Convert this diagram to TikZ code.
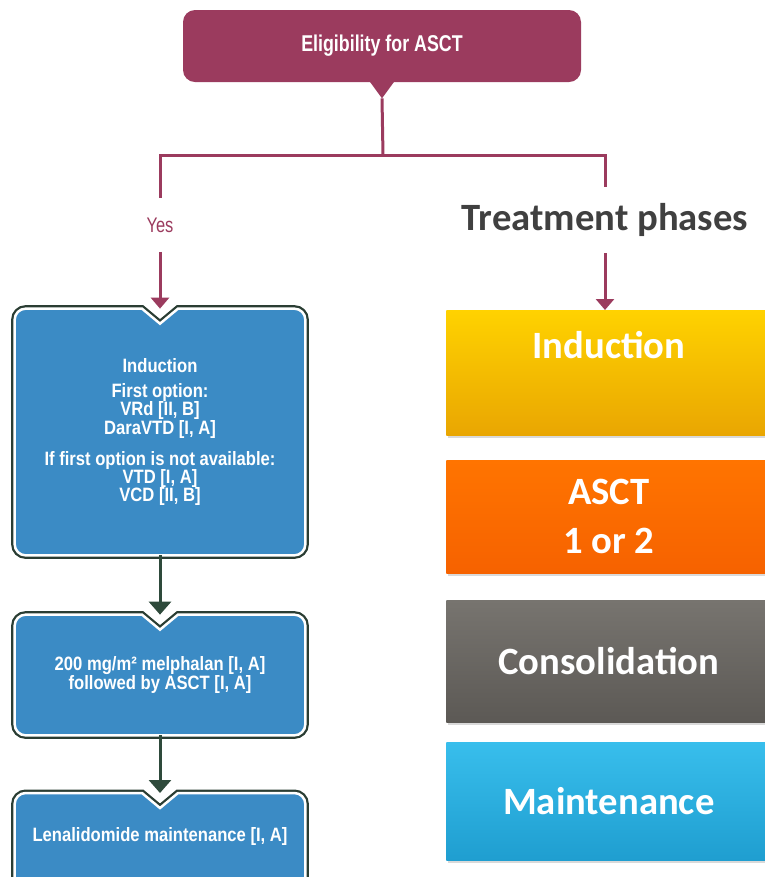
\documentclass[tikz,border=0pt]{standalone}
\usepackage{fontspec}
\setmainfont{Liberation Sans}
\newfontfamily\condfont[FakeStretch=0.78]{Liberation Sans}
\newfontfamily\stepfont[FakeStretch=0.86]{Liberation Sans}
\newfontfamily\phasefont{Carlito}
\usetikzlibrary{arrows.meta, shadows, backgrounds}

\newcommand{\tightlines}{\setlength{\lineskiplimit}{-10pt}\setlength{\lineskip}{0pt}}

\definecolor{eligred}{HTML}{9B3B5E}
\definecolor{indblue}{HTML}{3B8BC5}
\definecolor{edgedark}{HTML}{2A3D33}
\definecolor{arrowgreen}{HTML}{2E4A3B}
\definecolor{phasegray}{HTML}{404040}
\definecolor{yellowtop}{HTML}{FFD200}
\definecolor{yellowbot}{HTML}{E9A602}
\definecolor{orangetop}{HTML}{FF7400}
\definecolor{orangebot}{HTML}{F66200}
\definecolor{graytop}{HTML}{77746F}
\definecolor{graybot}{HTML}{5C5955}
\definecolor{cyantop}{HTML}{38BEEC}
\definecolor{cyanbot}{HTML}{1F9ED0}

\tikzset{
  eligbox/.style={fill=eligred, rounded corners=0.24cm, minimum width=7.96cm,
    minimum height=1.44cm, text=white, font=\condfont\bfseries\fontsize{13}{15}\selectfont},
  redline/.style={draw=eligred, line width=0.06cm},
  redarrow/.style={redline, -{Triangle[width=0.36cm,length=0.22cm]}},
  greenarrow/.style={draw=arrowgreen, line width=0.06cm, -{Triangle[width=0.44cm,length=0.26cm]}},
  stepbox/.style={text=white, align=center, minimum width=5.8cm, inner sep=0pt,
    font=\stepfont\bfseries\fontsize{11}{10.3}\selectfont\tightlines},
  notchfill/.style={fill=indblue, draw=white, line width=0.05cm,
    preaction={draw=edgedark, line width=0.14cm}},
  phasebox/.style={anchor=north west, minimum width=6.5cm, text=white, align=center,
    font=\phasefont\bfseries\fontsize{22}{28}\selectfont,
    drop shadow={opacity=0.3, shadow xshift=0.04cm, shadow yshift=-0.05cm}},
}

% blue box outline with the notch at the top
\newcommand{\notchbox}[1]{%
  \path[notchfill] ([xshift=-0.36cm]#1.north) -- ([yshift=-0.3cm]#1.north) -- ([xshift=0.36cm]#1.north)
    -- ([xshift=-0.22cm]#1.north east) arc[start angle=90, end angle=0, radius=0.22cm]
    -- ([yshift=0.22cm]#1.south east) arc[start angle=0, end angle=-90, radius=0.22cm]
    -- ([xshift=0.22cm]#1.south west) arc[start angle=270, end angle=180, radius=0.22cm]
    -- ([yshift=-0.22cm]#1.north west) arc[start angle=180, end angle=90, radius=0.22cm]
    -- cycle;}

\begin{document}
\begin{tikzpicture}

    \useasboundingbox (0,0) rectangle (15.3,-17.54);

    % Top decision
    \node[eligbox] (elig) at (7.64,-0.92) {Eligibility for ASCT};
    \coordinate (tip) at ([yshift=-0.32cm]elig.south);
    \fill[eligred] ([xshift=-0.27cm,yshift=0.05cm]elig.south) -- ([xshift=0.27cm,yshift=0.05cm]elig.south) -- (tip) -- cycle;
    \coordinate (fork) at (7.66,-3.1);

    % Branch labels
    \node[text=eligred, font=\condfont\fontsize{12}{13}\selectfont, minimum height=1.06cm, inner sep=0pt] (yes) at (3.2,-4.5) {Yes};
    \node[text=phasegray, font=\phasefont\bfseries\fontsize{22}{24}\selectfont, minimum height=1.32cm, inner sep=0pt] (phases) at (12.1,-4.4) {Treatment phases};

    % Left column
    \node[stepbox, minimum height=4.92cm] (ind1) at (3.2,-8.64) {Induction\\[0.14cm]
        First option:\\ VRd [II, B]\\ DaraVTD [I, A]\\[0.26cm]
        If first option is not available:\\ VTD [I, A]\\ VCD [II, B]};
    \node[stepbox, minimum height=2.4cm] (ind2) at (3.2,-13.5) {200 mg/m² melphalan [I, A]\\ followed by ASCT [I, A]};
    \node[stepbox, anchor=north, inner ysep=0.5cm, text height=0.47cm, text depth=1.6cm] (ind3) at (3.2,-15.86) {Lenalidomide maintenance [I, A]};

    \begin{scope}[on background layer]
        \notchbox{ind1}
        \notchbox{ind2}
        \notchbox{ind3}
    \end{scope}

    % Right column
    \node[phasebox, top color=yellowtop, bottom color=yellowbot, inner ysep=0.46cm, text height=0.5cm, text depth=1.08cm] (rind) at (8.92,-6.2) {Induction};
    \node[phasebox, top color=orangetop, bottom color=orangebot, minimum height=2.26cm] (rasct) at (8.92,-9.2) {ASCT\\1 or 2};
    \node[phasebox, top color=graytop, bottom color=graybot, minimum height=2.44cm] (rcons) at (8.92,-12.0) {Consolidation};
    \node[phasebox, top color=cyantop, bottom color=cyanbot, minimum height=2.36cm] (rmaint) at (8.92,-14.84) {Maintenance};

    % Connectors
    \draw[redline] (tip) -- (fork);
    \draw[redline] (fork) -| (yes.north);
    \draw[redline] (fork) -| (phases.north);
    \draw[redarrow] (yes.south) -- (ind1.north);
    \draw[redarrow] (phases.south) -- (phases.south |- rind.north);
    \draw[greenarrow] (ind1.south) -- (ind2.north);
    \draw[greenarrow] (ind2.south) -- (ind3.north);
\end{tikzpicture}
\end{document}
